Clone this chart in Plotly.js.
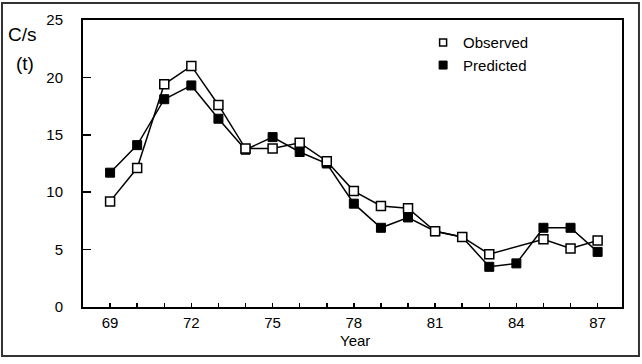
<!DOCTYPE html>
<html>
<head>
<meta charset="utf-8">
<script src="https://cdn.plot.ly/plotly-3.0.1.min.js"></script>
<style>html,body{margin:0;padding:0;background:#fff;}#chart{width:642px;height:364px;}</style>
</head>
<body>
<div id="chart"></div>
<script>
var years = [69,70,71,72,73,74,75,76,77,78,79,80,81,82,83,84,85,86,87];
var observed = [9.2,12.1,19.4,21.0,17.6,13.8,13.8,14.3,12.7,10.1,8.8,8.6,6.6,6.1,4.6,null,5.9,5.1,5.8];
var predicted = [11.7,14.1,18.1,19.3,16.4,13.7,14.8,13.5,12.5,9.0,6.9,7.8,6.6,6.1,3.5,3.8,6.9,6.9,4.8];
var xTickVals = [69,72,75,78,81,84,87];
var xTickText = ['69','72','75','78','81','84','87'];
var yTickVals = [0,5,10,15,20,25];
var seriesNames = ['Observed','Predicted'];

var FONT = '"Liberation Sans", Arial, sans-serif';

var traces = [
  {x: years, y: predicted, mode: 'lines+markers', showlegend: false, connectgaps: true,
   line: {color: '#000', width: 1.5},
   marker: {symbol: 'square', size: 9, color: '#000', line: {color: '#000', width: 1}}},
  {x: years, y: observed, mode: 'lines+markers', showlegend: false, connectgaps: true,
   line: {color: '#000', width: 1.5},
   marker: {symbol: 'square', size: 9, color: '#fff', line: {color: '#000', width: 1.5}}},
  {x: [null], y: [null], mode: 'markers', name: seriesNames[0],
   marker: {symbol: 'square', size: 7, color: '#fff', line: {color: '#000', width: 1.5}}},
  {x: [null], y: [null], mode: 'markers', name: seriesNames[1],
   marker: {symbol: 'square', size: 8, color: '#000', line: {color: '#000', width: 1}}}
];

var layout = {
  width: 642, height: 364,
  margin: {l: 83, r: 20, t: 20, b: 57},
  paper_bgcolor: '#fff', plot_bgcolor: '#fff',
  font: {family: FONT, size: 15, color: '#000'},
  showlegend: true,
  legend: {x: 0.631, y: 0.978, xanchor: 'left', yanchor: 'top', bgcolor: 'rgba(0,0,0,0)',
           font: {family: FONT, size: 15, color: '#000'}, itemwidth: 30, traceorder: 'normal'},
  xaxis: {range: [68, 87.9], tickmode: 'array', tickvals: xTickVals, ticktext: xTickText,
          ticks: 'inside', ticklen: 4, tickwidth: 1.5, tickcolor: '#000',
          minor: {dtick: 1, tick0: 69, ticks: 'inside', ticklen: 4, tickwidth: 1.5, tickcolor: '#000'},
          showline: true, linecolor: '#000', linewidth: 2, mirror: true,
          showgrid: false, zeroline: false, ticklabelstandoff: 1},
  yaxis: {range: [0, 25], tickmode: 'array', tickvals: yTickVals,
          ticks: 'inside', ticklen: 8, tickwidth: 1.5, tickcolor: '#000',
          showline: true, linecolor: '#000', linewidth: 2, mirror: true,
          showgrid: false, zeroline: false, ticklabelstandoff: 15},
  annotations: [
    {xref: 'paper', yref: 'paper', x: -0.112, y: (307 - 34) / 287, xanchor: 'center', yanchor: 'middle',
     text: 'C/s', showarrow: false, font: {family: FONT, size: 19, color: '#000'}},
    {xref: 'paper', yref: 'paper', x: -0.108, y: (307 - 63) / 287, xanchor: 'center', yanchor: 'middle',
     text: '(t)', showarrow: false, font: {family: FONT, size: 19, color: '#000'}},
    {xref: 'paper', yref: 'paper', x: (355 - 83) / 539, y: (307 - 340) / 287, xanchor: 'center', yanchor: 'middle',
     text: 'Year', showarrow: false, font: {family: FONT, size: 15, color: '#000'}}
  ],
  shapes: [
    {type: 'rect', xref: 'paper', yref: 'paper', x0: -0.1503, x1: 1.0315, y0: -0.1707, y1: 1.0592,
     line: {color: '#333', width: 2}, fillcolor: 'rgba(0,0,0,0)'}
  ]
};

Plotly.newPlot('chart', traces, layout, {displayModeBar: false, staticPlot: true});
</script>
</body>
</html>
